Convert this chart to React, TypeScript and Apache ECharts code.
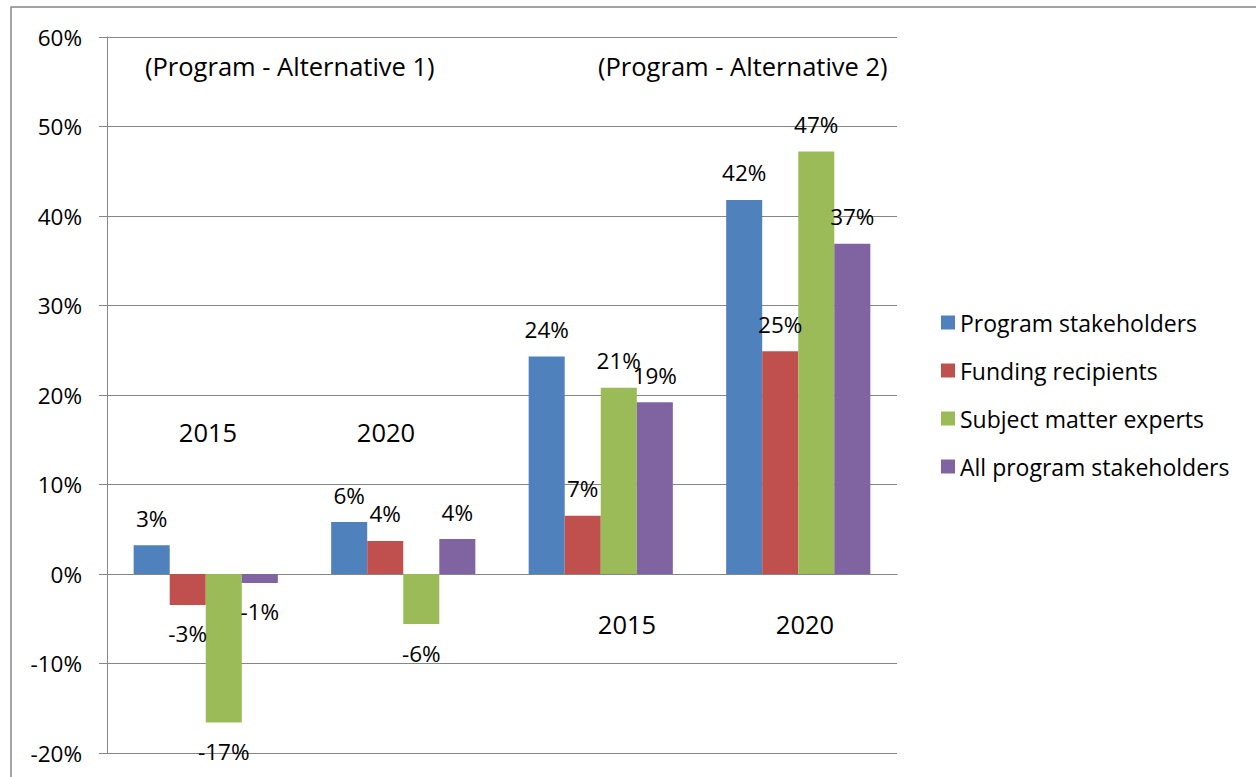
import React, { useEffect, useRef } from "react";
import * as echarts from "echarts";

const categories = ["2015", "2020", "2015", "2020"];
const seriesNames = [
  "Program stakeholders",
  "Funding recipients",
  "Subject matter experts",
  "All program stakeholders",
];
const programStakeholders = [3.2, 5.8, 24.3, 41.8];
const fundingRecipients = [-3.46, 3.7, 6.5, 24.9];
const subjectMatterExperts = [-16.6, -5.6, 20.8, 47.2];
const allProgramStakeholders = [-1.0, 3.9, 19.2, 36.9];
const seriesColors = ["#4F81BD", "#C0504D", "#9BBB59", "#8064A2"];
const yMin = -20;
const yMax = 60;
const yStep = 10;

const FONT = "'Open Sans', sans-serif";
const FS = 22.5;
const LEGEND_FS = 23;
const ANNOT_FS = 25.5;
const GRAY = "#868686";

export default function App() {
  const ref = useRef<HTMLDivElement>(null);
  useEffect(() => {
    if (!ref.current) return;
    const chart = echarts.init(ref.current, null, { renderer: "svg" });
    const allValues = [
      programStakeholders,
      fundingRecipients,
      subjectMatterExperts,
      allProgramStakeholders,
    ];
    const series = allValues.map((vals, i) => ({
      name: seriesNames[i],
      type: "bar",
      barGap: "0%",
      barCategoryGap: "27%",
      itemStyle: { color: seriesColors[i] },
      data: vals.map((v) => ({
        value: v,
        label: {
          position: v < 0 ? "bottom" : "top",
          distance: v < 0 ? 17.5 : 15.5,
        },
      })),
      label: {
        show: true,
        color: "#000",
        fontFamily: FONT,
        fontSize: FS,
        lineHeight: 23,
        formatter: (p: any) => Math.round(p.value) + "%",
      },
    }));
    const annot = (text: string, x: number, y: number, align: string) => ({
      type: "text",
      x,
      y,
      style: {
        text,
        fill: "#000",
        font: `${ANNOT_FS}px ${FONT}`,
        align,
        verticalAlign: "middle",
      },
    });
    chart.setOption({
      animation: false,
      backgroundColor: "#fff",
      grid: { left: 107, right: 359, top: 37, bottom: 24, containLabel: false },
      legend: {
        orient: "vertical",
        left: 936,
        top: 306,
        icon: "rect",
        itemWidth: 14,
        itemHeight: 14,
        itemGap: 25,
        textStyle: { color: "#000", fontFamily: FONT, fontSize: LEGEND_FS, lineHeight: 23 },
        data: seriesNames,
      },
      xAxis: {
        type: "category",
        data: categories,
        axisLine: { show: true, lineStyle: { color: GRAY, width: 1 } },
        axisTick: { show: false },
        axisLabel: { show: false },
      },
      yAxis: {
        type: "value",
        min: yMin,
        max: yMax,
        interval: yStep,
        axisLine: { show: true, lineStyle: { color: GRAY, width: 1 } },
        axisTick: { show: true, length: 8, lineStyle: { color: GRAY } },
        splitLine: { show: true, lineStyle: { color: GRAY, width: 1 } },
        axisLabel: {
          color: "#000",
          fontFamily: FONT,
          fontSize: FS,
          margin: 25,
          formatter: (v: number) => v + "%",
        },
      },
      series,
      graphic: [
        {
          type: "rect",
          shape: { x: 11, y: 7, width: 1400, height: 900 },
          style: { fill: "none", stroke: GRAY, lineWidth: 1.5 },
          silent: true,
        },
        annot("(Program - Alternative 1)", 145, 66, "left"),
        annot("(Program - Alternative 2)", 598, 66, "left"),
        annot(categories[0], 208, 432, "center"),
        annot(categories[1], 386, 432, "center"),
        annot(categories[2], 627, 624, "center"),
        annot(categories[3], 805, 624, "center"),
      ],
    });
    return () => chart.dispose();
  }, []);
  return (
    <div
      ref={ref}
      style={{ position: "absolute", left: 0, top: 0, width: 1256, height: 777 }}
    />
  );
}
